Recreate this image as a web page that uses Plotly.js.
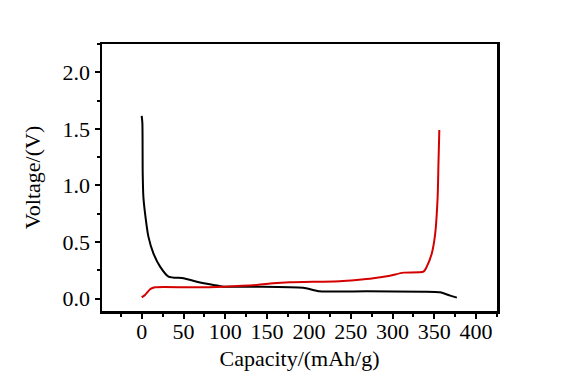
<!DOCTYPE html>
<html><head><meta charset="utf-8">
<script src="https://cdn.plot.ly/plotly-3.0.1.min.js"></script>
<style>html,body{margin:0;padding:0;background:#fff}#c{width:578px;height:373px}</style>
</head><body><div id="c"></div>
<script>
const dischargeCap = [0, 0.8, 1.2, 2, 4, 8, 14, 22, 32, 50, 66, 86, 98, 138, 193, 213, 269, 337, 357, 369, 377];
const dischargeV   = [1.614, 1.55, 1.108, 0.90, 0.754, 0.548, 0.40, 0.283, 0.195, 0.18, 0.15, 0.121, 0.106, 0.106, 0.097, 0.065, 0.065, 0.062, 0.056, 0.027, 0.009];
const chargeCap = [0, 4, 10, 16, 58, 98, 138, 157, 177, 237, 257, 277, 297, 313, 337, 341, 347, 351, 354, 355, 356];
const chargeV   = [0.012, 0.033, 0.083, 0.1, 0.1, 0.106, 0.121, 0.136, 0.145, 0.154, 0.165, 0.18, 0.203, 0.23, 0.239, 0.283, 0.40, 0.57, 0.90, 1.2, 1.49];
const xTicks = [0, 50, 100, 150, 200, 250, 300, 350, 400];
const yTicks = [0, 0.5, 1.0, 1.5, 2.0];

const font = {family: '"Liberation Serif", "Times New Roman", serif', color: '#000', size: 22};
const traces = [
  {x: dischargeCap, y: dischargeV, mode: 'lines', line: {color: '#000', width: 2, shape: 'spline', smoothing: 0.6}, showlegend: false},
  {x: chargeCap, y: chargeV, mode: 'lines', line: {color: '#d40000', width: 2, shape: 'spline', smoothing: 0.6}, showlegend: false}
];
const layout = {
  width: 578, height: 373,
  margin: {l: 102, r: 81, t: 44, b: 62},
  paper_bgcolor: '#fff', plot_bgcolor: '#fff',
  font: font,
  xaxis: {
    range: [-47.5, 425], tickvals: xTicks, ticktext: xTicks.map(String),
    showgrid: false, zeroline: false, showline: true, mirror: true, linecolor: '#000', linewidth: 2.5,
    ticks: 'outside', ticklen: 5, tickwidth: 2, tickcolor: '#000', ticklabelstandoff: -6,
    minor: {dtick: 25, tick0: 0, ticks: 'outside', ticklen: 3, tickwidth: 2, tickcolor: '#000', showgrid: false},
    tickfont: {size: 22},
    title: {text: 'Capacity/(mAh/g)', font: {size: 22}, standoff: 8}
  },
  yaxis: {
    range: [-0.109, 2.25], tickvals: yTicks, ticktext: yTicks.map(v => v.toFixed(1)),
    showgrid: false, zeroline: false, showline: true, mirror: true, linecolor: '#000', linewidth: 2.5,
    ticks: 'outside', ticklen: 5, tickwidth: 2, tickcolor: '#000',
    minor: {dtick: 0.25, tick0: 0, ticks: 'outside', ticklen: 3, tickwidth: 2, tickcolor: '#000', showgrid: false},
    tickfont: {size: 22},
    title: {text: 'Voltage/(V)', font: {size: 22}, standoff: 16}
  }
};
Plotly.newPlot('c', traces, layout, {staticPlot: true, displayModeBar: false});
</script></body></html>
